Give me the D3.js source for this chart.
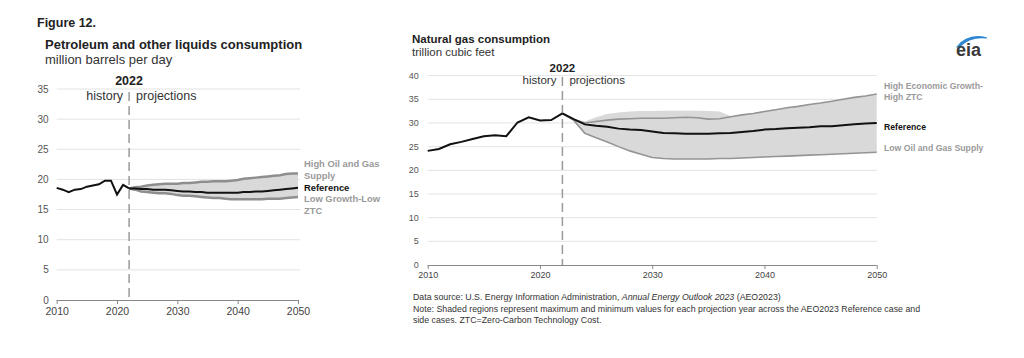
<!DOCTYPE html>
<html><head><meta charset="utf-8">
<script src="https://cdn.jsdelivr.net/npm/d3@7"></script>
<style>
body{margin:0;background:#fff;}
svg{display:block;font-family:"Liberation Sans",Arial,sans-serif;}
</style></head>
<body><svg id="c" width="1024" height="358"></svg>
<script>
// ---------- DATA ----------
const histYears = d3.range(2010, 2023);
const projYears = d3.range(2022, 2051);
const decadeTicks = [2010, 2020, 2030, 2040, 2050];

// Petroleum and other liquids (million barrels per day)
const oilHist = [18.6,18.3,17.9,18.3,18.4,18.8,19.0,19.2,19.8,19.8,17.5,19.1,18.5];
const oilRef  = [18.5,18.5,18.4,18.4,18.3,18.3,18.3,18.2,18.1,18.0,18.0,17.9,17.9,17.8,17.8,17.8,17.8,17.8,17.8,17.9,17.9,18.0,18.0,18.1,18.2,18.3,18.4,18.5,18.6];
const oilHigh = [18.5,18.7,18.8,19.0,19.1,19.2,19.3,19.3,19.3,19.4,19.4,19.5,19.6,19.6,19.7,19.7,19.7,19.8,19.9,20.1,20.2,20.3,20.4,20.5,20.6,20.7,20.9,21.0,21.0];
const oilLow  = [18.5,18.3,18.0,17.9,17.8,17.7,17.7,17.6,17.4,17.3,17.3,17.2,17.1,17.0,16.9,16.9,16.8,16.7,16.7,16.7,16.7,16.7,16.7,16.8,16.8,16.8,16.9,17.0,17.1];
const oilTicksY = [0,5,10,15,20,25,30,35];

// Natural gas (trillion cubic feet)
const gasHist = [24.1,24.5,25.5,26.0,26.6,27.2,27.4,27.2,30.1,31.2,30.5,30.6,32.0];
const gasRef  = [32.0,30.8,29.7,29.4,29.2,28.8,28.6,28.5,28.2,27.9,27.8,27.7,27.7,27.7,27.8,27.9,28.1,28.3,28.6,28.7,28.9,29.0,29.1,29.3,29.3,29.5,29.7,29.9,30.0];
const gasHigh = [32.0,30.7,30.0,30.3,30.6,30.8,30.9,31.0,31.0,31.0,31.1,31.2,31.1,30.8,30.9,31.3,31.7,32.0,32.4,32.8,33.2,33.5,33.9,34.2,34.6,35.0,35.4,35.7,36.1];
const gasMax  = [32.0,30.9,30.3,31.2,31.9,32.2,32.4,32.5,32.5,32.6,32.6,32.6,32.6,32.5,32.4,31.4,31.7,32.0,32.4,32.8,33.2,33.5,33.9,34.2,34.6,35.0,35.4,35.7,36.1];
const gasLow  = [32.0,30.6,27.8,26.9,26.0,25.0,24.1,23.4,22.7,22.5,22.4,22.4,22.4,22.4,22.5,22.5,22.6,22.7,22.8,22.9,23.0,23.1,23.2,23.3,23.4,23.5,23.6,23.7,23.8];
const gasTicksY = [0,5,10,15,20,25,30,35,40];

const svg = d3.select("#c");

function panel(o){
  const g = svg.append("g");
  const x = d3.scaleLinear().domain([2010,2050]).range([o.x0,o.x1]);
  const y = d3.scaleLinear().domain([0,o.ymax]).range([o.y0,o.y1]);
  // grid
  g.selectAll(".grid").data(o.yTicks.filter(v=>v>0)).join("line")
    .attr("x1",o.x0).attr("x2",o.gridEnd).attr("y1",d=>y(d)).attr("y2",d=>y(d))
    .attr("stroke","#e3e3e3").attr("stroke-width",1);
  // y labels
  g.selectAll(".yl").data(o.yTicks).join("text")
    .attr("x",o.x0-o.ylabOff).attr("y",d=>y(d)+o.yfs*0.35)
    .attr("text-anchor","end").attr("font-size",o.yfs).attr("fill","#555").text(d=>d);
  // x axis
  const ax = g.append("g").attr("transform",`translate(0,${o.y0})`)
    .call(d3.axisBottom(x).tickValues(decadeTicks).tickFormat(d3.format("d")).tickSize(4).tickPadding(o.xpad));
  ax.select(".domain").attr("stroke","#888").attr("d",`M${o.x0},0.5H${o.x1}`);
  ax.selectAll(".tick line").attr("stroke","#888");
  ax.selectAll(".tick text").attr("font-size",o.xfs).attr("fill","#444")
    .attr("font-family","Liberation Sans, Arial, sans-serif");
  // band
  const area = d3.area().x((d,i)=>x(projYears[i])).y0((d,i)=>y(o.low[i])).y1(d=>y(d));
  g.append("path").datum(o.max).attr("d",area).attr("fill","#d9d9d9");
  const line = d3.line().x((d,i)=>x(projYears[i])).y(d=>y(d));
  g.append("path").datum(o.high).attr("d",line).attr("fill","none").attr("stroke",o.sideColor).attr("stroke-width",o.sideW);
  g.append("path").datum(o.low).attr("d",line).attr("fill","none").attr("stroke",o.sideColor).attr("stroke-width",o.sideW);
  // dashed 2022 line
  g.append("line").attr("x1",x(2022)).attr("x2",x(2022)).attr("y1",o.dashTop).attr("y2",o.y0)
    .attr("stroke","#9a9a9a").attr("stroke-width",1.5).attr("stroke-dasharray","9,5");
  g.append("rect").attr("x",x(2022)-6).attr("y",o.sepBot).attr("width",12).attr("height",3).attr("fill","#fff");
  // reference
  const hl = d3.line().x((d,i)=>x(histYears[i])).y(d=>y(d));
  g.append("path").datum(o.hist).attr("d",hl).attr("fill","none").attr("stroke","#111").attr("stroke-width",2);
  g.append("path").datum(o.ref).attr("d",line).attr("fill","none").attr("stroke","#111").attr("stroke-width",2);
  // labels
  g.append("text").attr("x",x(2022)).attr("y",o.yearY).attr("text-anchor","middle")
    .attr("font-weight","bold").attr("font-size",o.lfs).attr("fill","#222").text("2022");
  g.append("text").attr("x",x(2022)-6).attr("y",o.hpY).attr("text-anchor","end")
    .attr("font-size",o.lfs).attr("fill","#333").text("history");
  g.append("text").attr("x",x(2022)+7).attr("y",o.hpY)
    .attr("font-size",o.lfs).attr("fill","#333").text("projections");
  return {g,x,y};
}

// Title
svg.append("text").attr("x",37).attr("y",27).attr("font-weight","bold").attr("font-size",12.5).attr("fill","#222").text("Figure 12.");

// Left panel
const L = panel({x0:56.7,x1:298,gridEnd:300,y0:300,y1:89,ymax:35,yTicks:oilTicksY,ylabOff:8,yfs:10,xfs:10.5,xpad:4,
  hist:oilHist,ref:oilRef,high:oilHigh,low:oilLow,max:oilHigh,sideColor:"#8e8e8e",sideW:2.5,
  dashTop:92,sepBot:101,yearY:85,hpY:100,lfs:12.5});
svg.append("text").attr("x",45).attr("y",49).attr("font-weight","bold").attr("font-size",13).attr("fill","#222")
  .text("Petroleum and other liquids consumption");
svg.append("text").attr("x",45).attr("y",64).attr("font-size",13).attr("fill","#333").text("million barrels per day");
const lAnn = [["High Oil and Gas",167,"#9a9a9a","bold"],["Supply",178.5,"#9a9a9a","bold"],["Reference",190.5,"#111","bold"],["Low Growth-Low",202.3,"#9a9a9a","bold"],["ZTC",213.8,"#9a9a9a","bold"]];
svg.selectAll(".la").data(lAnn).join("text").attr("x",304).attr("y",d=>d[1]).attr("fill",d=>d[2])
  .attr("font-weight",d=>d[3]).attr("font-size",9.4).text(d=>d[0]);

// Right panel
const R = panel({x0:427.7,x1:876.7,gridEnd:877,y0:265,y1:75.6,ymax:40,yTicks:gasTicksY,ylabOff:9,yfs:9,xfs:9,xpad:3,
  hist:gasHist,ref:gasRef,high:gasHigh,low:gasLow,max:gasMax,sideColor:"#949494",sideW:1.6,
  dashTop:77,sepBot:86,yearY:72,hpY:84,lfs:11.5});
svg.append("text").attr("x",412).attr("y",43).attr("font-weight","bold").attr("font-size",11.5).attr("fill","#222")
  .text("Natural gas consumption");
svg.append("text").attr("x",412).attr("y",56).attr("font-size",11.5).attr("fill","#333").text("trillion cubic feet");
const rAnn = [["High Economic Growth-",89,"#9a9a9a"],["High ZTC",99.5,"#9a9a9a"],["Reference",130,"#111"],["Low Oil and Gas Supply",150.7,"#9a9a9a"]];
svg.selectAll(".ra").data(rAnn).join("text").attr("x",884).attr("y",d=>d[1]).attr("fill",d=>d[2])
  .attr("font-weight","bold").attr("font-size",8.7).text(d=>d[0]);

// Footnotes
const fn = svg.append("g").attr("font-size",8.8).attr("fill","#333");
const t1 = fn.append("text").attr("x",413).attr("y",300);
t1.append("tspan").text("Data source: U.S. Energy Information Administration, ");
t1.append("tspan").attr("font-style","italic").text("Annual Energy Outlook 2023");
t1.append("tspan").text(" (AEO2023)");
fn.append("text").attr("x",413).attr("y",311.5).text("Note: Shaded regions represent maximum and minimum values for each projection year across the AEO2023 Reference case and");
fn.append("text").attr("x",413).attr("y",323).text("side cases. ZTC=Zero-Carbon Technology Cost.");

// eia logo
svg.append("path").attr("d","M957,47 Q968,33 987,38 Q970,36 959,47 Z").attr("fill","#2f86d0").attr("stroke","#2f86d0").attr("stroke-width",1.2);
svg.append("text").attr("x",956).attr("y",56).attr("font-size",18).attr("font-weight","bold").attr("fill","#3a3a3a").text("eia");
</script></body></html>
